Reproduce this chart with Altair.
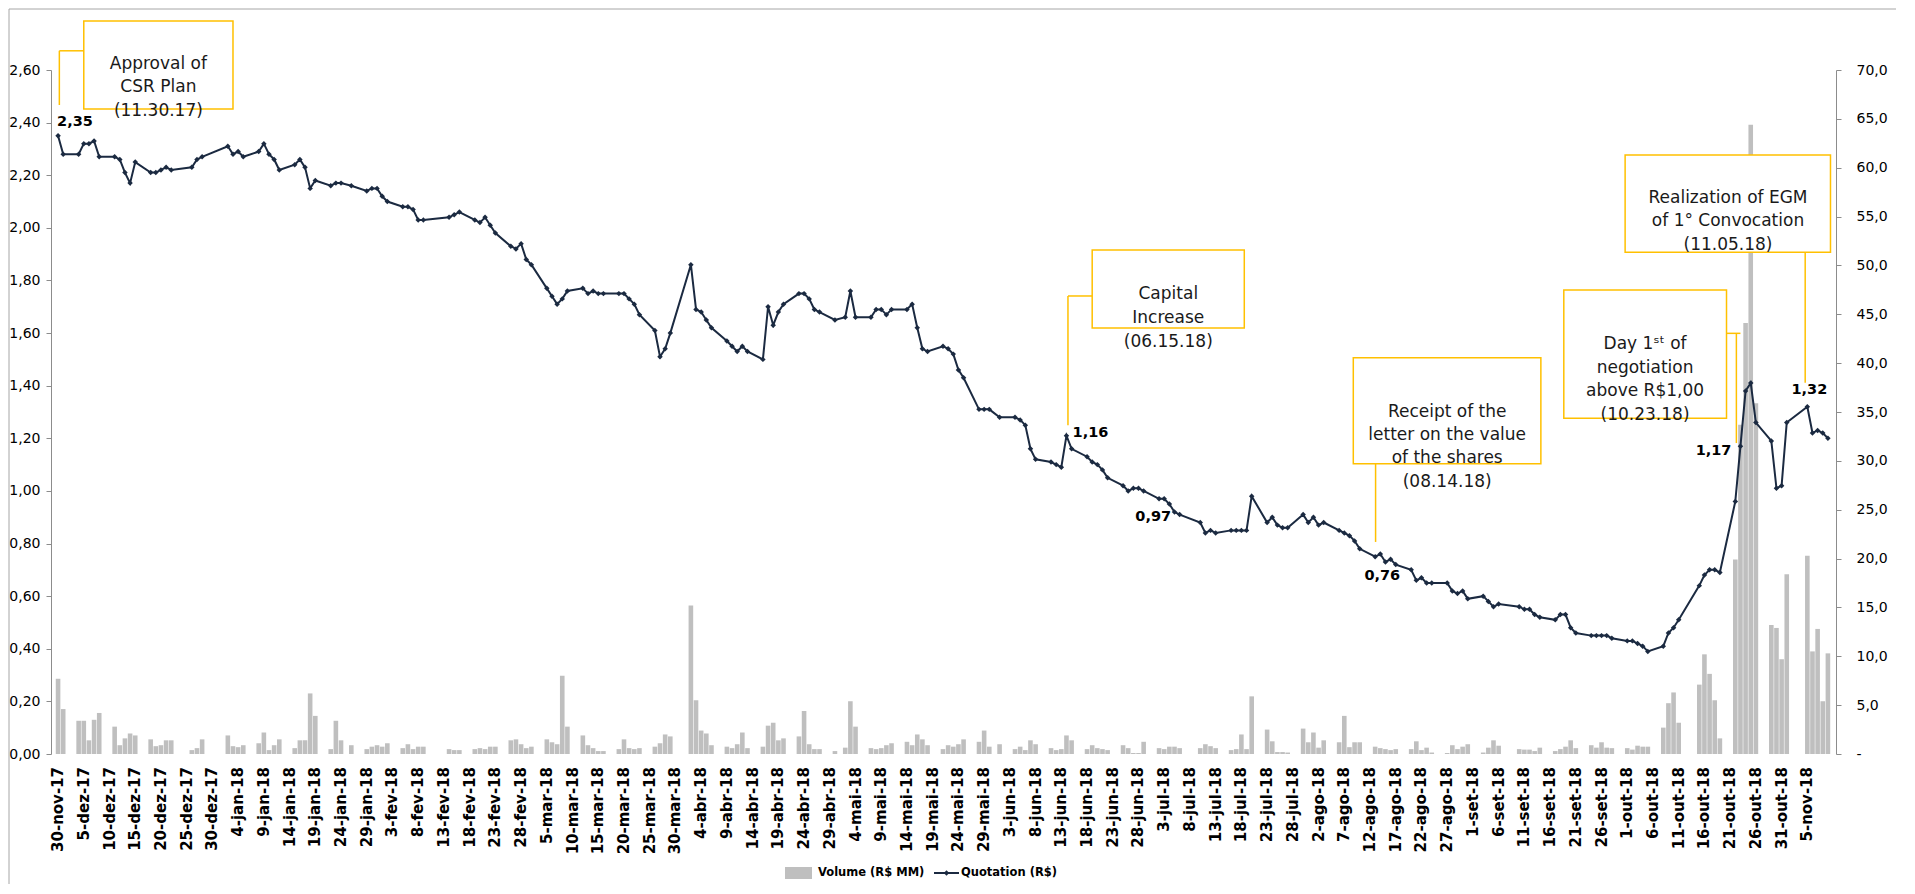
import altair as alt
import pandas as pd

NAVY = "#1B2A41"
GOLD = "#FFC000"
BAR = "#BFBFBF"
AXIS = "#8C8C8C"
FRAME = "#A6A6A6"
FONT = "DejaVu Sans"

# B3 non-trading days inside the period
holidays = ["2017-12-25", "2017-12-29", "2018-01-01", "2018-01-25", "2018-02-12",
            "2018-02-13", "2018-03-30", "2018-05-01", "2018-05-31", "2018-07-09",
            "2018-09-07", "2018-10-12", "2018-11-02"]

# Quotation (R$), one value per trading day
price = [
    2.35,
    2.28, 2.28, 2.32, 2.32, 2.33, 2.27, 2.27, 2.26, 2.21, 2.17, 2.25, 2.21, 2.21, 2.22, 2.23, 2.22, 2.23, 2.26, 2.27,
    2.31, 2.28, 2.29, 2.27, 2.29, 2.32, 2.28, 2.26, 2.22, 2.24, 2.26, 2.23, 2.15, 2.18, 2.16, 2.17, 2.17, 2.16, 2.14, 2.15, 2.15,
    2.12, 2.10, 2.08, 2.08, 2.07, 2.03, 2.03, 2.04, 2.05, 2.06, 2.03, 2.02, 2.04, 2.01, 1.98, 1.93, 1.92, 1.94,
    1.88, 1.86, 1.77, 1.74, 1.71, 1.73, 1.76, 1.77, 1.75, 1.76, 1.75, 1.75, 1.75, 1.75, 1.73, 1.71, 1.67, 1.61, 1.51, 1.54, 1.60,
    1.86, 1.69, 1.68, 1.65, 1.62, 1.57, 1.55, 1.53, 1.55, 1.53, 1.50, 1.70, 1.63, 1.68, 1.71, 1.75, 1.75, 1.73, 1.69, 1.68, 1.65,
    1.66, 1.76, 1.66, 1.66, 1.69, 1.69, 1.67, 1.69, 1.69, 1.71, 1.62, 1.54, 1.53, 1.55, 1.54, 1.52, 1.46, 1.43, 1.31, 1.31, 1.31,
    1.28, 1.28, 1.27, 1.25, 1.16, 1.12, 1.11, 1.10, 1.09, 1.21, 1.16, 1.13, 1.11, 1.10, 1.08, 1.05, 1.02, 1.00, 1.01, 1.01, 1.00,
    0.97, 0.97, 0.95, 0.92, 0.91, 0.88, 0.84, 0.85, 0.84, 0.85, 0.85, 0.85, 0.85, 0.98, 0.88, 0.90, 0.87, 0.86, 0.86, 0.91, 0.88,
    0.90, 0.87, 0.88, 0.85, 0.84, 0.83, 0.81, 0.78, 0.75, 0.76, 0.73, 0.74, 0.72, 0.70, 0.66, 0.67, 0.65, 0.65, 0.65, 0.62, 0.61, 0.62, 0.59,
    0.60, 0.58, 0.56, 0.57, 0.56, 0.55, 0.55, 0.53, 0.52, 0.51, 0.53, 0.53, 0.48, 0.46, 0.45, 0.45, 0.45, 0.45, 0.44,
    0.43, 0.43, 0.42, 0.41, 0.39, 0.41, 0.46, 0.48, 0.51, 0.64, 0.68, 0.70, 0.70, 0.69, 0.96, 1.17, 1.38, 1.41, 1.26, 1.19, 1.01, 1.02,
    1.26, 1.32, 1.22, 1.23, 1.22, 1.20,
]

# Volume (R$ MM), one value per trading day
volume = [
    7.7,
    4.6, 3.4, 3.4, 1.4, 3.5, 4.2, 2.8, 0.9, 1.6, 2.1, 1.9, 1.5, 0.8, 0.9, 1.4, 1.4, 0.4, 0.6, 1.5,
    1.9, 0.8, 0.7, 0.9, 1.1, 2.2, 0.4, 0.9, 1.5, 0.6, 1.4, 1.4, 6.2, 3.9, 0.5, 3.4, 1.4, 0.9, 0.5, 0.75, 0.9,
    0.75, 1.1, 0.6, 1.0, 0.5, 0.75, 0.75, 0.5, 0.4, 0.4, 0.5, 0.6, 0.5, 0.75, 0.75, 1.4, 1.5, 1.0,
    0.6, 0.75, 1.5, 1.2, 1.0, 8.0, 2.8, 1.9, 0.9, 0.6, 0.3, 0.3, 0.5, 1.5, 0.6, 0.5, 0.6, 0.75, 1.1, 2.0, 1.8,
    15.2, 5.5, 2.4, 2.1, 0.9, 0.75, 0.6, 1.0, 2.2, 0.6, 0.75, 2.9, 3.2, 1.4, 1.6, 1.8, 4.4, 1.0, 0.5, 0.5, 0.3,
    0.65, 5.4, 2.8, 0.6, 0.5, 0.6, 0.9, 1.1, 1.25, 0.9, 2.0, 1.5, 0.9, 0.5, 0.9, 0.75, 1.0, 1.5, 1.25, 2.4, 0.75,
    1.0, 0.5, 0.75, 0.4, 1.4, 1.0, 0.6, 0.4, 0.5, 1.9, 1.4, 0.5, 0.9, 0.6, 0.5, 0.4, 0.9, 0.6, 0.1, 0.1, 1.25,
    0.6, 0.5, 0.75, 0.75, 0.6, 0.6, 1.0, 0.8, 0.6, 0.4, 0.5, 2.0, 0.5, 5.9, 2.5, 1.3, 0.2, 0.2, 0.15, 2.6, 1.2,
    2.2, 0.65, 1.4, 1.2, 3.9, 0.7, 1.2, 1.2, 0.75, 0.6, 0.5, 0.4, 0.5, 0.5, 1.3, 0.4, 0.65, 0.15, 0.1, 0.9, 0.5, 0.75, 1.0,
    0.15, 0.65, 1.4, 0.85, 0.5, 0.45, 0.45, 0.3, 0.65, 0.3, 0.5, 0.75, 1.4, 0.6, 0.9, 0.65, 1.2, 0.65, 0.6,
    0.6, 0.45, 0.85, 0.75, 0.75, 2.7, 5.2, 6.3, 3.2, 7.1, 10.2, 8.2, 5.5, 1.6, 19.9, 33.7, 44.1, 64.4, 35.9, 13.2, 12.9, 9.7,
    18.4, 20.3, 10.5, 12.8, 5.4, 10.3,
]

days = [d.strftime("%Y-%m-%d") for d in pd.bdate_range("2017-11-30", "2018-11-09")
        if d.strftime("%Y-%m-%d") not in holidays]
assert len(days) == len(price) == len(volume)
df = pd.DataFrame({"date": days, "price": price, "volume": volume})


def ms(s):
    return int(pd.Timestamp(s, tz="UTC").value // 10**6)


# x tick labels: every 5 days, Portuguese month abbreviations
pt_months = ["jan", "fev", "mar", "abr", "mai", "jun", "jul", "ago", "set", "out", "nov", "dez"]
tick_dates = pd.date_range("2017-11-30", "2018-11-05", freq="5D")
tick_labels = [f"{t.day}-{pt_months[t.month - 1]}-{t.strftime('%y')}" for t in tick_dates]
ticks_df = pd.DataFrame({"x": [ms(t.strftime("%Y-%m-%d")) for t in tick_dates], "label": tick_labels})

price_ticks = [0.0, 0.2, 0.4, 0.6, 0.8, 1.0, 1.2, 1.4, 1.6, 1.8, 2.0, 2.2, 2.4, 2.6]
volume_ticks = [0, 5, 10, 15, 20, 25, 30, 35, 40, 45, 50, 55, 60, 65, 70]

XS = alt.Scale(type="utc", domain=[ms("2017-11-29T14:24"), ms("2018-11-09T14:24")])
YP = alt.Scale(domain=[0, 2.6], nice=False, zero=True)
YV = alt.Scale(domain=[0, 70], nice=False, zero=True)

x_axis = alt.Axis(
    orient="bottom", labels=False, ticks=False, domainColor=AXIS, domainWidth=1,
    grid=False, title="",
)
left_axis = alt.Axis(
    orient="left", values=price_ticks,
    labelExpr="replace(format(datum.value, '.2f'), '.', ',')",
    tickSize=5, tickColor=AXIS, domainColor=AXIS, labelPadding=6,
    labelFont=FONT, labelFontSize=14, labelColor="#000000", labelFlush=False,
    grid=False, title="",
)
right_axis = alt.Axis(
    orient="right", values=volume_ticks,
    labelExpr="datum.value == 0 ? '-' : replace(format(datum.value, '.1f'), '.', ',')",
    tickSize=5, tickColor=AXIS, domainColor=AXIS, labelPadding=15,
    labelFont=FONT, labelFontSize=14, labelColor="#000000", labelFlush=False,
    grid=False, title="",
)

bars = alt.Chart(df).mark_bar(color=BAR, width=4.6).encode(
    x=alt.X("date:T", scale=XS, axis=x_axis),
    y=alt.Y("volume:Q", scale=YV, axis=right_axis),
)

line = alt.Chart(df).mark_line(
    color=NAVY, strokeWidth=2,
    point=alt.OverlayMarkDef(shape="diamond", filled=True, size=30, color=NAVY, opacity=1),
).encode(
    x=alt.X("date:T", scale=XS, axis=None),
    y=alt.Y("price:Q", scale=YP, axis=left_axis),
)

x_labels = alt.Chart(ticks_df).mark_text(
    angle=270, align="right", baseline="middle", font=FONT, fontWeight="bold",
    fontSize=15, color="#000000",
).encode(
    x=alt.X("x:T", scale=XS, axis=None),
    y=alt.value(697),
    text="label:N",
)

layers = [bars, line, x_labels]

# value labels on the quotation line
value_labels = [
    ("2017-11-30", 2.35, "2,35", "left", -1, -14),
    ("2018-06-15", 1.16, "1,16", "left", 1, -16),
    ("2018-07-03", 0.97, "0,97", "center", -11, 18),
    ("2018-08-14", 0.76, "0,76", "center", 2, 22),
    ("2018-10-23", 1.17, "1,17", "right", -9, 5),
    ("2018-11-05", 1.32, "1,32", "center", 2, -17),
]
for d, p, t, al, dx, dy in value_labels:
    ld = pd.DataFrame({"x": [ms(d)], "y": [p]})
    layers.append(
        alt.Chart(ld).mark_text(text=t, align=al, baseline="middle", dx=dx, dy=dy,
                                font=FONT, fontWeight="bold", fontSize=14.5, color="#000000")
        .encode(x=alt.X("x:T", scale=XS, axis=None), y=alt.Y("y:Q", scale=YP, axis=None))
    )

# annotation boxes: (left date, right date, top price, bottom price, text-centre date, text-centre price, lines, line height)
boxes = [
    ("2017-12-05", "2018-01-03", 2.786, 2.452, "2017-12-19T12:00", 2.624,
     ["Approval of", "CSR Plan", "(11.30.17)"], 23.5),
    ("2018-06-19", "2018-07-18T13:30", 1.916, 1.619, "2018-07-03T19:00", 1.750,
     ["Capital", "Increase", "(06.15.18)"], 24),
    ("2018-08-08T18:00", "2018-09-14T05:00", 1.506, 1.103, "2018-08-27T00:00", 1.301,
     ["Receipt of the", "letter on the value", "of the shares", "(08.14.18)"], 23.3),
    ("2018-09-18T16:00", "2018-10-20T07:00", 1.764, 1.276, "2018-10-04T11:00", 1.559,
     ["Day 1ˢᵗ of", "negotiation", "above R$1,00", "(10.23.18)"], 23.7),
    ("2018-09-30T14:00", "2018-11-09T12:00", 2.277, 1.907, "2018-10-20T14:00", 2.115,
     ["Realization of EGM", "of 1° Convocation", "(11.05.18)"], 23.5),
]
# callout segments: vertical (date, price from, price to) and horizontal (date from, date to, price)
v_callouts = [
    ("2017-11-30T06:00", 2.673, 2.467),
    ("2018-06-14T07:00", 1.741, 1.250),
    ("2018-08-13T02:00", 1.103, 0.806),
    ("2018-10-22T05:00", 1.599, 1.182),
    ("2018-11-04T14:00", 1.907, 1.411),
]
h_callouts = [
    ("2017-11-30T06:00", "2017-12-05", 2.673),
    ("2018-06-14T07:00", "2018-06-19", 1.741),
    ("2018-10-19T07:00", "2018-10-23T00:00", 1.599),
]

for x1, y1, y2 in v_callouts:
    cd = pd.DataFrame({"x": [ms(x1)], "y": [y1], "y2": [y2]})
    layers.append(
        alt.Chart(cd).mark_rule(color=GOLD, strokeWidth=1.5).encode(
            x=alt.X("x:T", scale=XS, axis=None),
            y=alt.Y("y:Q", scale=YP, axis=None), y2="y2:Q")
    )
for x1, x2, y1 in h_callouts:
    cd = pd.DataFrame({"x": [ms(x1)], "x2": [ms(x2)], "y": [y1]})
    layers.append(
        alt.Chart(cd).mark_rule(color=GOLD, strokeWidth=1.5).encode(
            x=alt.X("x:T", scale=XS, axis=None), x2="x2:T",
            y=alt.Y("y:Q", scale=YP, axis=None))
    )

for x1, x2, y1, y2, cx, cy, lines, lh in boxes:
    bd = pd.DataFrame({"x": [ms(x1)], "x2": [ms(x2)], "y": [y1], "y2": [y2],
                       "cx": [ms(cx)], "cy": [cy]})
    layers.append(
        alt.Chart(bd).mark_rect(fill="#FFFFFF", stroke=GOLD, strokeWidth=1.5).encode(
            x=alt.X("x:T", scale=XS, axis=None), x2="x2:T",
            y=alt.Y("y:Q", scale=YP, axis=None), y2="y2:Q")
    )
    layers.append(
        alt.Chart(bd).mark_text(text=lines, lineHeight=lh, align="center", baseline="middle",
                                font=FONT, fontSize=17, color="#1A1A1A").encode(
            x=alt.X("cx:T", scale=XS, axis=None),
            y=alt.Y("cy:Q", scale=YP, axis=None))
    )

# legend (drawn manually below the axis) and chart-area frame
one = pd.DataFrame({"a": [0]})
layers += [
    alt.Chart(one).mark_rect(color=BAR).encode(
        x=alt.value(734), x2=alt.value(761), y=alt.value(797), y2=alt.value(809)),
    alt.Chart(one).mark_text(text="Volume (R$ MM)", align="left", baseline="middle",
                             font=FONT, fontWeight="bold", fontSize=11.5, color="#000000").encode(
        x=alt.value(767), y=alt.value(803)),
    alt.Chart(one).mark_rule(color=NAVY, strokeWidth=2).encode(
        x=alt.value(883), x2=alt.value(908), y=alt.value(803)),
    alt.Chart(one).mark_point(shape="diamond", filled=True, size=30, color=NAVY, opacity=1).encode(
        x=alt.value(895.5), y=alt.value(803)),
    alt.Chart(one).mark_text(text="Quotation (R$)", align="left", baseline="middle",
                             font=FONT, fontWeight="bold", fontSize=11.5, color="#000000").encode(
        x=alt.value(910), y=alt.value(803)),
    alt.Chart(one).mark_rule(color=FRAME, strokeWidth=1).encode(
        x=alt.value(-42), x2=alt.value(1846), y=alt.value(-61)),
    alt.Chart(one).mark_rule(color=FRAME, strokeWidth=1).encode(
        x=alt.value(-42), y=alt.value(-61), y2=alt.value(814)),
]

chart = alt.layer(*layers).resolve_scale(y="independent").properties(
    width=1785, height=684,
    padding={"left": 43, "top": 62, "right": 60, "bottom": 130},
    autosize=alt.AutoSizeParams(type="none"),
    background="#FFFFFF",
).configure_view(stroke="transparent")

chart.save("out.html", embed_options={"renderer": "svg", "actions": False})
